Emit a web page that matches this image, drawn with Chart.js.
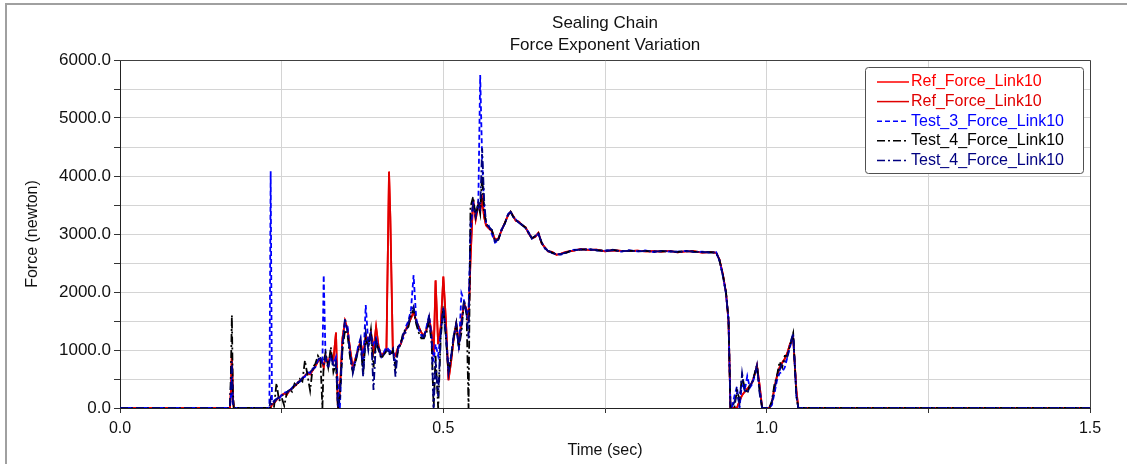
<!DOCTYPE html>
<html>
<head>
<meta charset="utf-8">
<title>Sealing Chain - Force Exponent Variation</title>
<script src="https://cdn.jsdelivr.net/npm/chart.js@4.4.1/dist/chart.umd.min.js"></script>
<style>
  html, body { margin: 0; padding: 0; background: #fff; }
  #wrap { width: 1130px; height: 464px; position: relative; }
</style>
</head>
<body>
<div id="wrap"><canvas id="forceChart"></canvas></div>
<script>
// -----------------------------
// Data
// -----------------------------
const chartTitle = ['Sealing Chain', 'Force Exponent Variation'];
const xAxisTitle = 'Time (sec)';
const yAxisTitle = 'Force (newton)';

const timeSec = [
  0.000, 0.170, 0.1715, 0.173, 0.1745, 0.176, 0.229, 0.231, 0.233, 0.235,
  0.238, 0.242, 0.246, 0.250, 0.254, 0.258, 0.262, 0.266, 0.270, 0.274,
  0.278, 0.282, 0.286, 0.290, 0.294, 0.298, 0.302, 0.306, 0.310, 0.313,
  0.315, 0.318, 0.322, 0.326, 0.330, 0.334, 0.337, 0.340, 0.344, 0.348,
  0.352, 0.356, 0.360, 0.364, 0.368, 0.372, 0.376, 0.380, 0.384, 0.388,
  0.392, 0.396, 0.400, 0.404, 0.408, 0.412, 0.416, 0.418, 0.422, 0.426,
  0.430, 0.434, 0.438, 0.442, 0.446, 0.450, 0.454, 0.458, 0.462, 0.466,
  0.470, 0.474, 0.478, 0.482, 0.485, 0.488, 0.492, 0.496, 0.500, 0.504,
  0.508, 0.512, 0.516, 0.520, 0.524, 0.528, 0.532, 0.536, 0.539, 0.542,
  0.546, 0.550, 0.554, 0.557, 0.560, 0.563, 0.566, 0.570, 0.575, 0.580,
  0.585, 0.590, 0.595, 0.600, 0.604, 0.608, 0.612, 0.617, 0.622, 0.627,
  0.632, 0.637, 0.642, 0.647, 0.652, 0.657, 0.662, 0.668, 0.675, 0.682,
  0.690, 0.700, 0.712, 0.725, 0.737, 0.750, 0.762, 0.775, 0.787, 0.800,
  0.812, 0.825, 0.837, 0.850, 0.862, 0.875, 0.887, 0.900, 0.912, 0.922,
  0.927, 0.932, 0.937, 0.941, 0.944, 0.946, 0.950, 0.954, 0.958, 0.962,
  0.966, 0.970, 0.974, 0.978, 0.982, 0.985, 0.989, 0.993, 0.996, 1.000,
  1.004, 1.008, 1.012, 1.016, 1.020, 1.024, 1.028, 1.032, 1.036, 1.041,
  1.046, 1.049, 1.052, 1.500
];

const refForce = [
  0, 0, 300, 950, 200, 0, 0, 0, 0, 60,
  80, 140, 180, 220, 250, 230, 300, 340, 380, 420,
  470, 500, 560, 600, 580, 650, 720, 800, 850, 780,
  700, 900, 760, 950, 820, 1300, 0, 300, 1200, 1500,
  1350, 1000, 700, 850, 1000, 1150, 900, 1250, 1150, 1300,
  1000, 1400, 1050, 900, 950, 1000, 4075, 3300, 950, 900,
  1050, 1100, 1250, 1350, 1450, 1550, 1650, 1500, 1400, 1300,
  1250, 1350, 1550, 1300, 900, 2200, 1100, 1400, 2265, 1500,
  480, 800, 1200, 1450, 1100, 1500, 1800, 1700, 1500, 2550,
  3600, 3250, 3500, 3400, 3600, 3300, 3150, 3100, 3050, 2900,
  2920, 3060, 3190, 3320, 3380, 3310, 3230, 3210, 3150, 3120,
  3010, 2930, 2950, 3020, 2840, 2770, 2700, 2690, 2640, 2660,
  2690, 2710, 2740, 2725, 2730, 2700, 2720, 2710, 2705, 2715,
  2700, 2705, 2695, 2710, 2685, 2700, 2705, 2680, 2690, 2675,
  2560, 2320, 2000, 1500, 0, 0, 0, 0, 120, 220,
  280, 330, 380, 450, 600, 730, 400, 0, 0, 0,
  0, 80, 350, 550, 700, 780, 850, 950, 1100, 1200,
  300, 0, 0, 0
];

const test3Force = [
  0, 0, 200, 500, 100, 0, 0, 0, 4080, 100,
  120, 160, 150, 230, 260, 280, 290, 350, 400, 430,
  450, 520, 540, 620, 600, 680, 700, 820, 870, 760,
  2290, 800, 720, 900, 760, 880, 400, 0, 1100, 1450,
  1400, 900, 650, 820, 1050, 1200, 700, 1775, 1100, 1250,
  1100, 1200, 1000, 880, 960, 1050, 1000, 980, 1000, 800,
  1000, 1150, 1200, 1400, 1500, 1700, 2290, 1550, 1350, 1250,
  1200, 1400, 1600, 1200, 800, 1100, 900, 1300, 1700, 1300,
  650, 900, 1250, 1400, 1000, 1980, 1850, 1600, 1700, 3000,
  3550, 3350, 3450, 5740, 4300, 3500, 3200, 3150, 3000, 2850,
  2890, 3080, 3170, 3340, 3390, 3290, 3250, 3190, 3160, 3100,
  3030, 2920, 2970, 3000, 2860, 2750, 2720, 2670, 2655, 2645,
  2675, 2725, 2730, 2740, 2715, 2715, 2730, 2695, 2720, 2700,
  2715, 2690, 2710, 2695, 2695, 2710, 2690, 2695, 2680, 2685,
  2540, 2300, 1980, 1520, 0, 0, 200, 370, 0, 450,
  300, 550, 350, 420, 580, 700, 350, 0, 0, 0,
  0, 50, 250, 480, 600, 620, 700, 870, 1050, 1250,
  200, 0, 0, 0
];

const test4Force = [
  0, 0, 600, 1600, 300, 0, 0, 0, 0, 0,
  0, 430, 120, 180, 40, 260, 320, 280, 420, 380,
  500, 460, 820, 560, 300, 700, 760, 900, 820, 0,
  800, 950, 700, 1050, 620, 780, 0, 200, 1000, 1350,
  1250, 850, 620, 780, 980, 1100, 600, 1200, 1050, 1350,
  700, 1150, 1000, 850, 920, 980, 950, 900, 1000, 700,
  1000, 1100, 1300, 1350, 1400, 1600, 1700, 1450, 1300, 1200,
  1200, 1300, 1500, 1100, 0, 900, 0, 1200, 1750, 1200,
  600, 850, 1200, 1460, 1050, 1300, 1860, 1600, 0, 3470,
  3640, 3300, 3530, 3350, 4000, 3400, 3200, 3100, 3070, 2880,
  2900, 3070, 3185, 3330, 3385, 3300, 3240, 3200, 3155, 3110,
  3020, 2925, 2960, 3010, 2850, 2760, 2710, 2680, 2650, 2650,
  2680, 2720, 2730, 2735, 2720, 2710, 2725, 2700, 2715, 2705,
  2710, 2695, 2705, 2700, 2690, 2705, 2695, 2690, 2685, 2680,
  2550, 2310, 2010, 1540, 0, 0, 0, 300, 150, 550,
  350, 250, 400, 450, 620, 740, 300, 0, 0, 0,
  0, 120, 400, 560, 800, 700, 900, 900, 1080, 1290,
  200, 0, 0, 0
];

const test4bForce = [
  0, 0, 400, 800, 150, 0, 0, 0, 150, 50,
  100, 150, 190, 210, 240, 270, 310, 330, 390, 440,
  460, 510, 570, 590, 620, 660, 710, 840, 860, 740,
  760, 880, 680, 920, 700, 800, 0, 250, 1100, 1550,
  1300, 950, 600, 800, 1000, 1180, 540, 1300, 1000, 1340,
  310, 1170, 1050, 890, 930, 1000, 970, 940, 1020, 540,
  1060, 1080, 1280, 1300, 1460, 1650, 1750, 1500, 1400, 1280,
  1230, 1380, 1575, 1150, 0, 800, 200, 1300, 1750, 1250,
  600, 880, 1250, 1460, 1060, 1400, 1860, 1640, 1200, 3200,
  3500, 3300, 3550, 3450, 4480, 3600, 3185, 3125, 3070, 2870,
  2910, 3065, 3180, 3335, 3380, 3305, 3245, 3195, 3150, 3105,
  3015, 2925, 2965, 3015, 2845, 2755, 2705, 2680, 2645, 2655,
  2685, 2715, 2735, 2730, 2725, 2705, 2720, 2705, 2710, 2700,
  2705, 2700, 2700, 2705, 2690, 2700, 2700, 2685, 2685, 2680,
  2550, 2290, 1990, 1520, 0, 0, 100, 250, 80, 600,
  300, 260, 370, 460, 600, 740, 260, 0, 0, 0,
  0, 100, 300, 540, 650, 770, 800, 885, 1085, 1290,
  200, 0, 0, 0
];

const xTicks = { min: 0, max: 1.5, step: 0.25, labelEvery: 0.5 };
const yTicks = { min: 0, max: 6000, step: 500, labelEvery: 1000 };

// -----------------------------
// Helpers
// -----------------------------
function toPoints(values) {
    return timeSec.map(function (t, i) { return { x: t, y: values[i] }; });
}

const dashDot = [8, 3, 2, 3];

const seriesDefs = [
    { label: 'Ref_Force_Link10',    values: refForce,    color: '#ff0000', dash: [],     order: 5 },
    { label: 'Ref_Force_Link10',    values: refForce,    color: '#e00000', dash: [],     order: 4 },
    { label: 'Test_3_Force_Link10', values: test3Force,  color: '#0000ff', dash: [5, 3], order: 3 },
    { label: 'Test_4_Force_Link10', values: test4Force,  color: '#000000', dash: dashDot, order: 2 },
    { label: 'Test_4_Force_Link10', values: test4bForce, color: '#000080', dash: dashDot, order: 1 }
];

// titles, frame and boxed legend drawn on the canvas
const decorPlugin = {
    id: 'decor',
    beforeDraw: function (chart) {
        const ctx = chart.ctx;
        ctx.save();
        ctx.strokeStyle = '#a0a0a0';
        ctx.lineWidth = 2;
        ctx.beginPath();
        ctx.moveTo(6, 470);
        ctx.lineTo(6, 4);
        ctx.lineTo(1127, 4);
        ctx.stroke();
        ctx.restore();
    },
    afterDraw: function (chart) {
        const ctx = chart.ctx;
        const area = chart.chartArea;
        ctx.save();

        // plot frame (top + right)
        ctx.strokeStyle = '#404040';
        ctx.lineWidth = 1;
        ctx.beginPath();
        ctx.moveTo(area.left, area.top + 0.5);
        ctx.lineTo(area.right + 0.5, area.top + 0.5);
        ctx.lineTo(area.right + 0.5, area.bottom);
        ctx.stroke();

        // title
        const cx = (area.left + area.right) / 2;
        ctx.fillStyle = '#111';
        ctx.font = '17px "Liberation Sans", Arial, sans-serif';
        ctx.textAlign = 'center';
        ctx.textBaseline = 'middle';
        ctx.fillText(chartTitle[0], cx, 23);
        ctx.fillText(chartTitle[1], cx, 45);

        // legend box
        const lx = 865, ly = 67, lw = 218, lh = 106;
        ctx.strokeStyle = '#505050';
        ctx.fillStyle = '#fff';
        ctx.beginPath();
        ctx.roundRect(lx + 0.5, ly + 0.5, lw, lh, 3);
        ctx.fill();
        ctx.stroke();

        ctx.font = '16px "Liberation Sans", Arial, sans-serif';
        ctx.textAlign = 'left';
        chart.data.datasets.forEach(function (ds, i) {
            const rowY = ly + 15 + i * 19.6;
            ctx.strokeStyle = ds.borderColor;
            ctx.lineWidth = 1.5;
            ctx.setLineDash(ds.borderDash || []);
            ctx.beginPath();
            ctx.moveTo(lx + 12, rowY);
            ctx.lineTo(lx + 44, rowY);
            ctx.stroke();
            ctx.setLineDash([]);
            ctx.fillStyle = ds.borderColor;
            ctx.fillText(ds.label, lx + 46, rowY);
        });
        ctx.restore();
    }
};

// -----------------------------
// Chart
// -----------------------------
const ctx = document.getElementById('forceChart').getContext('2d');
new Chart(ctx, {
    type: 'line',
    data: {
        datasets: seriesDefs.map(function (s) {
            return {
                label: s.label,
                data: toPoints(s.values),
                borderColor: s.color,
                backgroundColor: s.color,
                borderDash: s.dash,
                borderWidth: 1.8,
                pointRadius: 0,
                tension: 0,
                fill: false,
                order: s.order
            };
        })
    },
    options: {
        responsive: true,
        maintainAspectRatio: false,
        animation: false,
        layout: { padding: { left: 0, right: 40, top: 60, bottom: 0 } },
        plugins: {
            legend: { display: false },
            title: { display: false },
            tooltip: { enabled: false }
        },
        scales: {
            x: {
                type: 'linear',
                min: xTicks.min,
                max: xTicks.max,
                afterFit: function (scale) { scale.height = 56; },
                border: { color: '#222', width: 1 },
                grid: { color: '#d4d4d4', tickColor: '#333', tickLength: 5 },
                ticks: {
                    stepSize: xTicks.step,
                    autoSkip: false,
                    maxRotation: 0,
                    color: '#111',
                    padding: 6,
                    font: { size: 16, family: '"Liberation Sans", Arial, sans-serif' },
                    callback: function (v) {
                        return Math.abs(v / xTicks.labelEvery - Math.round(v / xTicks.labelEvery)) < 1e-6 ? v.toFixed(1) : '';
                    }
                },
                title: {
                    display: true,
                    text: xAxisTitle,
                    color: '#111',
                    font: { size: 16, family: '"Liberation Sans", Arial, sans-serif' },
                    padding: { top: 0, bottom: 4 }
                }
            },
            y: {
                min: yTicks.min,
                max: yTicks.max,
                afterFit: function (scale) { scale.width = 120; },
                border: { color: '#222', width: 1 },
                grid: { color: '#d4d4d4', tickColor: '#333', tickLength: 6 },
                ticks: {
                    stepSize: yTicks.step,
                    autoSkip: false,
                    color: '#111',
                    padding: 3,
                    font: { size: 17, family: '"Liberation Sans", Arial, sans-serif' },
                    callback: function (v) {
                        return v % yTicks.labelEvery === 0 ? v.toFixed(1) : '';
                    }
                },
                title: {
                    display: true,
                    text: yAxisTitle,
                    color: '#111',
                    font: { size: 16, family: '"Liberation Sans", Arial, sans-serif' },
                    padding: { top: 23, bottom: 0 }
                }
            }
        }
    },
    plugins: [decorPlugin]
});
</script>
</body>
</html>
